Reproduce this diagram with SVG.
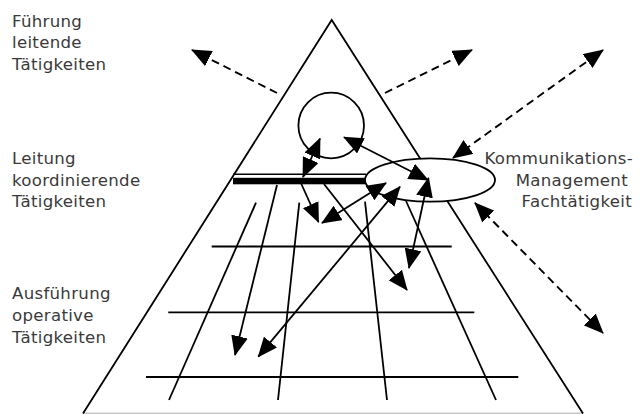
<svg xmlns="http://www.w3.org/2000/svg" width="640" height="414" viewBox="0 0 640 414">
<style>
.ln{stroke:#000;stroke-width:1.8;fill:none}
.ar{stroke:#000;stroke-width:1.8;fill:none;marker-end:url(#ah)}
.ar2{stroke:#000;stroke-width:1.8;fill:none;marker-start:url(#ah);marker-end:url(#ah)}
.da{stroke:#000;stroke-width:1.9;fill:none;stroke-dasharray:8 5;marker-end:url(#ah)}
.da2{stroke:#000;stroke-width:1.9;fill:none;stroke-dasharray:8 5;marker-start:url(#ah);marker-end:url(#ah)}
.t{font-family:"DejaVu Sans",sans-serif;font-size:16.6px;letter-spacing:0.3px;fill:#3a3a3a}
</style>
<defs>
<marker id="ah" viewBox="0 0 20 17" refX="19" refY="8.5" markerWidth="20" markerHeight="17" markerUnits="userSpaceOnUse" orient="auto-start-reverse">
<path d="M0,0 L20,8.5 L0,17 z" fill="#000"/>
</marker>
</defs>
<g id="pyramid">
<line x1="83" y1="413.5" x2="583" y2="413.5" stroke="#c8c8c8" stroke-width="2"/>
<polyline class="ln" points="83,413.5 331.7,20 583,413.5"/>
</g>
<g id="grid">
<line class="ln" x1="211.7" y1="246.5" x2="451.7" y2="246.5"/>
<line class="ln" x1="168.3" y1="312.3" x2="474.3" y2="312.3"/>
<line class="ln" x1="146" y1="377" x2="518.3" y2="377"/>
<line class="ln" x1="256" y1="202.7" x2="169" y2="400"/>
<line class="ln" x1="299.3" y1="202.7" x2="278" y2="400"/>
<line class="ln" x1="365" y1="201.7" x2="387" y2="400"/>
<line class="ln" x1="406" y1="201" x2="496" y2="400"/>
</g>
<g id="bar">
<line x1="233" y1="174.3" x2="366" y2="174.3" stroke="#000" stroke-width="1.6"/>
<rect x="233" y="177.8" width="132" height="6.5" fill="#000"/>
</g>
<g id="circle">
<circle cx="331.2" cy="125.5" r="32.8" class="ln"/>
</g>
<g id="ellipse">
<ellipse cx="430" cy="180" rx="65" ry="21.7" fill="#fff" stroke="#000" stroke-width="1.8"/>
</g>
<g id="connectors">
<line class="ar2" x1="303" y1="177" x2="320" y2="138.5"/>
<line class="ar2" x1="428" y1="180" x2="344" y2="137.3"/>
<line class="ar" x1="300" y1="181" x2="318.5" y2="222"/>
<line class="ar" x1="324" y1="184" x2="407" y2="290"/>
<line class="ar2" x1="386" y1="183" x2="322" y2="223"/>
<line class="ar2" x1="400" y1="186.7" x2="258.3" y2="356.7"/>
<line class="ar2" x1="428.5" y1="178" x2="409" y2="268"/>
<line class="ar" x1="277" y1="185" x2="235" y2="355"/>
<line class="da" x1="277" y1="93" x2="192" y2="50"/>
<line class="da" x1="385" y1="93" x2="472" y2="50"/>
<line class="da2" x1="453" y1="158" x2="603" y2="50"/>
<line class="da2" x1="475" y1="203" x2="603" y2="333"/>
</g>
<g id="labels">
<text class="t" x="12" y="27">Führung</text>
<text class="t" x="12" y="48">leitende</text>
<text class="t" x="12" y="70">Tätigkeiten</text>
<text class="t" x="12" y="164">Leitung</text>
<text class="t" x="12" y="186">koordinierende</text>
<text class="t" x="12" y="207">Tätigkeiten</text>
<text class="t" x="12" y="299">Ausführung</text>
<text class="t" x="12" y="321">operative</text>
<text class="t" x="12" y="343">Tätigkeiten</text>
<text class="t" x="633" y="164" text-anchor="end">Kommunikations-</text>
<text class="t" x="628" y="186" text-anchor="end">Management</text>
<text class="t" x="632" y="207" text-anchor="end">Fachtätigkeit</text>
</g>
</svg>
